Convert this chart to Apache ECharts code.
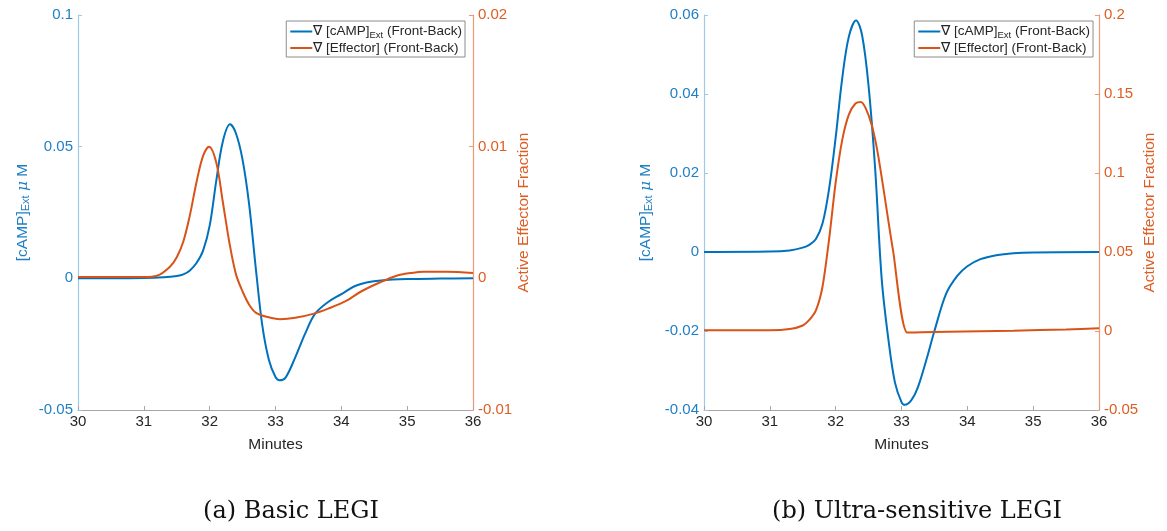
<!DOCTYPE html>
<html>
<head>
<meta charset="utf-8">
<script src="https://cdn.jsdelivr.net/npm/echarts@6/dist/echarts.min.js"></script>
<style>
  html, body { margin: 0; padding: 0; background: #fff; }
  #chart { width: 1167px; height: 531px; }
</style>
</head>
<body>
<div id="chart"></div>
<script>
// (a) Basic LEGI — front-back gradients over time (minutes)
const basicCampMinutes = [30, 30.5, 31.0, 31.3, 31.5, 31.6, 31.7, 31.8, 31.9, 32.0, 32.1, 32.2, 32.31, 32.4, 32.5, 32.6, 32.7, 32.8, 32.9, 33.0, 33.06, 33.15, 33.3, 33.45, 33.6, 33.8, 34.0, 34.2, 34.4, 34.6, 35.0, 35.5, 36];
const basicCamp = [0, 0, 0.0001, 0.0004, 0.0009, 0.0015, 0.003, 0.0058, 0.0105, 0.020, 0.037, 0.052, 0.0585, 0.055, 0.045, 0.028, 0.004, -0.018, -0.031, -0.0375, -0.0387, -0.0378, -0.030, -0.021, -0.0135, -0.009, -0.006, -0.003, -0.0015, -0.0008, -0.0003, -0.0001, 0];
const basicEffMinutes = [30, 31.0, 31.2, 31.4, 31.5, 31.6, 31.7, 31.8, 31.9, 31.99, 32.1, 32.2, 32.3, 32.4, 32.5, 32.6, 32.7, 32.85, 33.07, 33.3, 33.57, 33.8, 34.08, 34.3, 34.59, 34.84, 35.05, 35.25, 35.6, 36];
const basicEff = [0.0001, 0.0001, 0.0002, 0.0009, 0.0016, 0.0028, 0.0048, 0.0073, 0.0093, 0.0100, 0.0088, 0.0058, 0.0027, 0.0003, -0.0010, -0.0020, -0.0026, -0.0029, -0.0031, -0.0030, -0.0027, -0.0023, -0.0017, -0.0010, -0.0003, 0.0002, 0.0004, 0.0005, 0.0005, 0.0004];

// (b) Ultra-sensitive LEGI
const ultraCampMinutes = [30, 31.0, 31.3, 31.5, 31.6, 31.7, 31.8, 31.9, 32.0, 32.1, 32.2, 32.31, 32.4, 32.5, 32.6, 32.7, 32.8, 32.9, 33.0, 33.05, 33.15, 33.25, 33.4, 33.5, 33.68, 33.85, 34.0, 34.2, 34.44, 34.7, 35.0, 36];
const ultraCamp = [0, 0.0001, 0.0004, 0.0011, 0.0018, 0.0033, 0.0072, 0.0160, 0.0290, 0.0440, 0.0545, 0.0586, 0.0550, 0.0420, 0.0210, -0.0070, -0.0220, -0.0330, -0.0380, -0.0387, -0.0375, -0.0342, -0.0260, -0.0200, -0.0105, -0.0060, -0.0036, -0.0018, -0.0008, -0.0003, -0.0001, 0];
const ultraEffMinutes = [30, 31.0, 31.3, 31.5, 31.6, 31.7, 31.8, 31.9, 32.0, 32.1, 32.2, 32.3, 32.38, 32.45, 32.55, 32.65, 32.87, 33.09, 33.3, 33.7, 34.7, 35.5, 36];
const ultraEff = [0.0005, 0.0004, 0.0012, 0.0035, 0.0070, 0.0130, 0.0280, 0.0580, 0.0940, 0.1210, 0.1370, 0.1440, 0.1450, 0.1415, 0.1300, 0.1100, 0.0513, -0.0010, -0.0008, -0.0004, 0.0002, 0.0010, 0.0017];

// Axis ranges and tick spacing
const minuteRange = [30, 36, 1];
const basicCampRange = [-0.05, 0.1, 0.05];
const basicEffRange = [-0.01, 0.02, 0.01];
const ultraCampRange = [-0.04, 0.06, 0.02];
const ultraEffRange = [-0.05, 0.2, 0.05];

const campName = '\u2207 [cAMP]Ext (Front-Back)';
const effName = '\u2207 [Effector] (Front-Back)';
const captions = ['(a) Basic LEGI', '(b) Ultra-sensitive LEGI'];

const BLUE = '#0072BD';
const ORANGE = '#D95319';
const BLUE_LABEL = '#1f7fc4';
const ORANGE_LABEL = '#dd5d24';
const BLUE_AXIS = '#9ec9e8';
const ORANGE_AXIS = '#ee9878';
const SANS = '"Liberation Sans", Helvetica, Arial, sans-serif';

const zip = (xs, ys) => xs.map((x, i) => [x, ys[i]]);
const fmt = v => String(+v.toFixed(4));

function xAxis(gridIndex) {
  return {
    type: 'value', gridIndex,
    min: minuteRange[0], max: minuteRange[1], interval: minuteRange[2],
    name: 'Minutes', nameLocation: 'middle', nameGap: 27,
    nameTextStyle: { color: '#262626', fontSize: 15.5, fontFamily: SANS },
    axisLine: { show: true, onZero: false, lineStyle: { color: '#a6a6a6', width: 1 } },
    axisTick: { show: true, inside: true, length: 4, lineStyle: { color: '#a6a6a6' } },
    axisLabel: { color: '#262626', fontSize: 15, fontFamily: SANS, margin: 4 },
    splitLine: { show: false }
  };
}

function yAxis(gridIndex, position, range, labelColor, lineColor, name, nameGap) {
  return {
    type: 'value', gridIndex, position,
    min: range[0], max: range[1], interval: range[2],
    name, nameLocation: 'middle', nameGap, nameRotate: 90,
    nameTextStyle: {
      color: labelColor, fontSize: 15.5, fontFamily: SANS,
      rich: {
        sub: { fontSize: 11, color: labelColor, fontFamily: SANS, lineHeight: 12, verticalAlign: 'bottom' },
        mu: { fontSize: 15.5, color: labelColor, fontStyle: 'italic', fontFamily: '"DejaVu Serif", serif' }
      }
    },
    axisLine: { show: true, onZero: false, lineStyle: { color: lineColor, width: 1.2 } },
    axisTick: { show: true, inside: true, length: 4, lineStyle: { color: lineColor } },
    axisLabel: { color: labelColor, fontSize: 15, fontFamily: SANS, margin: 5, formatter: fmt },
    splitLine: { show: false }
  };
}

function legend(right) {
  return {
    orient: 'vertical', right, top: 21,
    data: [campName, effName],
    backgroundColor: '#fff', borderColor: '#8c8c8c', borderWidth: 1,
    padding: [2, 3, 2, 4], itemGap: 1,
    icon: 'rect', itemWidth: 22, itemHeight: 2,
    selectedMode: false,
    formatter: n => n === campName ? '\u2207 [cAMP]{sub|Ext} (Front-Back)' : n,
    textStyle: {
      color: '#262626', fontSize: 13.5, fontFamily: SANS, padding: [0, 0, 0, -4],
      rich: { sub: { fontSize: 9.5, color: '#262626', fontFamily: SANS, lineHeight: 10, padding: [7, 0, 0, 0] } }
    }
  };
}

function line(name, data, xi, yi, color, smooth) {
  return {
    type: 'line', name, data, xAxisIndex: xi, yAxisIndex: yi,
    symbol: 'none', smooth,
    lineStyle: { color, width: 2 }, itemStyle: { color },
    emphasis: { disabled: true }, animation: false
  };
}

const campAxisName = '[cAMP]{sub|Ext} {mu|\u03bc} M';
const effAxisName = 'Active Effector Fraction';

const option = {
  animation: false,
  backgroundColor: '#fff',
  grid: [
    { left: 78, right: 694, top: 15, bottom: 121 },
    { left: 704, right: 68, top: 15, bottom: 121 }
  ],
  xAxis: [xAxis(0), xAxis(1)],
  yAxis: [
    yAxis(0, 'left', basicCampRange, BLUE_LABEL, BLUE_AXIS, campAxisName, 47),
    yAxis(0, 'right', basicEffRange, ORANGE_LABEL, ORANGE_AXIS, effAxisName, 43),
    yAxis(1, 'left', ultraCampRange, BLUE_LABEL, BLUE_AXIS, campAxisName, 50),
    yAxis(1, 'right', ultraEffRange, ORANGE_LABEL, ORANGE_AXIS, effAxisName, 43)
  ],
  legend: [legend(702), legend(74)],
  series: [
    line(campName, zip(basicCampMinutes, basicCamp), 0, 0, BLUE, 0.35),
    line(effName, zip(basicEffMinutes, basicEff), 0, 1, ORANGE, 0.35),
    line(campName, zip(ultraCampMinutes, ultraCamp), 1, 2, BLUE, 0.35),
    line(effName, zip(ultraEffMinutes, ultraEff), 1, 3, ORANGE, 0.25)
  ],
  graphic: [
    { type: 'text', style: { text: captions[0], x: 291, y: 512, textAlign: 'center', textVerticalAlign: 'middle', fill: '#111', font: '24px "DejaVu Serif", serif' } },
    { type: 'text', style: { text: captions[1], x: 917, y: 512, textAlign: 'center', textVerticalAlign: 'middle', fill: '#111', font: '24px "DejaVu Serif", serif' } }
  ]
};

const chart = echarts.init(document.getElementById('chart'), null, { renderer: 'canvas' });
chart.setOption(option);
</script>
</body>
</html>
